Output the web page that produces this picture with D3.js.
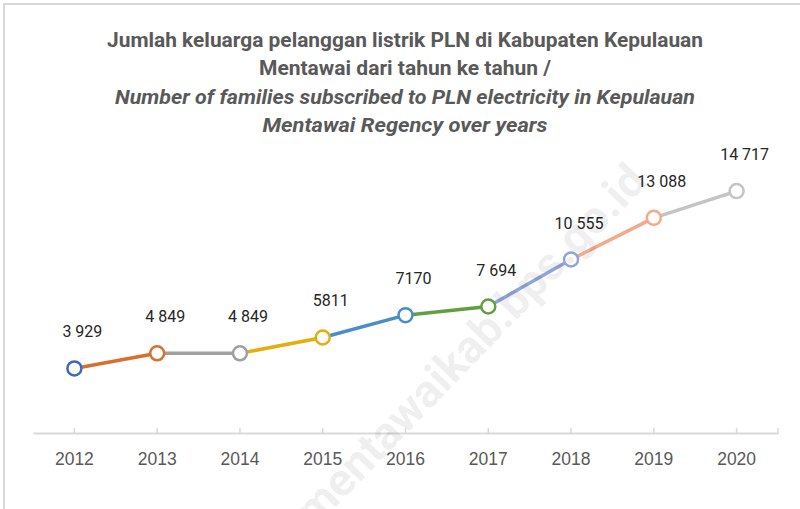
<!DOCTYPE html>
<html>
<head>
<meta charset="utf-8">
<script src="https://cdn.jsdelivr.net/npm/d3@7"></script>
<style>
  html, body { margin: 0; padding: 0; background: #fff; }
  svg { display: block; font-family: Roboto, "Open Sans", sans-serif; }
</style>
</head>
<body>
<div class="chart"></div>
<script>
const years = ['2012', '2013', '2014', '2015', '2016', '2017', '2018', '2019', '2020'];
const families = [3929, 4849, 4849, 5811, 7170, 7694, 10555, 13088, 14717];
const valueLabels = ['3 929', '4 849', '4 849', '5811', '7170', '7 694', '10 555', '13 088', '14 717'];
const pointColors = ['#4168B9', '#D8702D', '#A0A0A0', '#E6AE0C', '#4A8DC9', '#62A03F', '#8FA5DC', '#F3A98B', '#C4C4C4'];
const titleLines = [
  'Jumlah keluarga pelanggan listrik PLN di Kabupaten Kepulauan',
  'Mentawai dari tahun ke tahun /',
  'Number of families subscribed to PLN electricity in Kepulauan',
  'Mentawai Regency over years'
];
const watermark = 'mentawaikab.bps.go.id';

const width = 800, height = 509;
const margin = {top: 170, right: 22, bottom: 76, left: 33};

const svg = d3.select('.chart').append('svg')
  .attr('width', width)
  .attr('height', height);

// frame (top and left edges visible in the crop)
svg.append('path')
  .attr('d', `M4,${height} V4 H${width}`)
  .attr('fill', 'none')
  .attr('stroke', '#d9d9d9')
  .attr('stroke-width', 2);

// title, 4 centered lines; widths fitted to the reference
const titleWidths = [596, 292, 580, 285];
const titleY = [47, 75, 104, 132];
titleLines.forEach((t, i) => {
  svg.append('text')
    .attr('x', 405)
    .attr('y', titleY[i])
    .attr('text-anchor', 'middle')
    .attr('fill', '#595959')
    .attr('font-size', 20)
    .attr('font-weight', 700)
    .attr('font-style', i >= 2 ? 'italic' : 'normal')
    .attr('textLength', titleWidths[i])
    .attr('lengthAdjust', 'spacingAndGlyphs')
    .text(t);
});

const xScale = d3.scaleBand()
  .domain(years)
  .range([margin.left, width - margin.right]);

const yScale = d3.scaleLinear()
  .domain([0, 16000])
  .range([height - margin.bottom, margin.top]);

const cx = d => xScale(d) + xScale.bandwidth() / 2;
const baseY = yScale(0);

// category axis: line, small upward ticks at each category, labels below
const xAxis = d3.axisBottom(xScale).tickSize(0).tickPadding(20);
const gx = svg.append('g')
  .attr('transform', `translate(0,${baseY})`)
  .call(xAxis);
gx.select('.domain').attr('stroke', '#d9d9d9').attr('stroke-width', 2);
gx.selectAll('.tick text')
  .attr('fill', '#595959')
  .attr('font-size', 17.5);
gx.selectAll('.tick').append('line')
  .attr('y1', 0).attr('y2', -5)
  .attr('stroke', '#d9d9d9').attr('stroke-width', 1.5);
gx.append('line')
  .attr('x1', width - margin.right).attr('x2', width - margin.right)
  .attr('y1', 0).attr('y2', -5)
  .attr('stroke', '#d9d9d9').attr('stroke-width', 1.5);

const points = years.map((y, i) => ({year: y, value: families[i], label: valueLabels[i], color: pointColors[i]}));

// each segment takes the colour of the point it ends on
svg.append('g').selectAll('line')
  .data(points.slice(1))
  .enter().append('line')
    .attr('x1', (d, i) => cx(points[i].year))
    .attr('y1', (d, i) => yScale(points[i].value))
    .attr('x2', d => cx(d.year))
    .attr('y2', d => yScale(d.value))
    .attr('stroke', d => d.color)
    .attr('stroke-width', 3.5)
    .attr('stroke-linecap', 'round');

svg.append('g').selectAll('circle')
  .data(points)
  .enter().append('circle')
    .attr('cx', d => cx(d.year))
    .attr('cy', d => yScale(d.value))
    .attr('r', 7)
    .attr('fill', '#fff')
    .attr('stroke', d => d.color)
    .attr('stroke-width', 2.5);

svg.append('g').selectAll('text')
  .data(points)
  .enter().append('text')
    .attr('x', d => cx(d.year) + 8)
    .attr('y', d => yScale(d.value) - 31)
    .attr('text-anchor', 'middle')
    .attr('fill', '#262626')
    .attr('font-size', 16)
    .text(d => d.label);

// site watermark (runs off the bottom edge, as in the source)
svg.append('text')
  .attr('transform', 'translate(470,345) rotate(-46)')
  .attr('text-anchor', 'middle')
  .attr('dy', '0.35em')
  .attr('font-size', 46)
  .attr('font-weight', 700)
  .attr('fill', '#000')
  .attr('fill-opacity', 0.08)
  .text(watermark);
</script>
</body>
</html>
